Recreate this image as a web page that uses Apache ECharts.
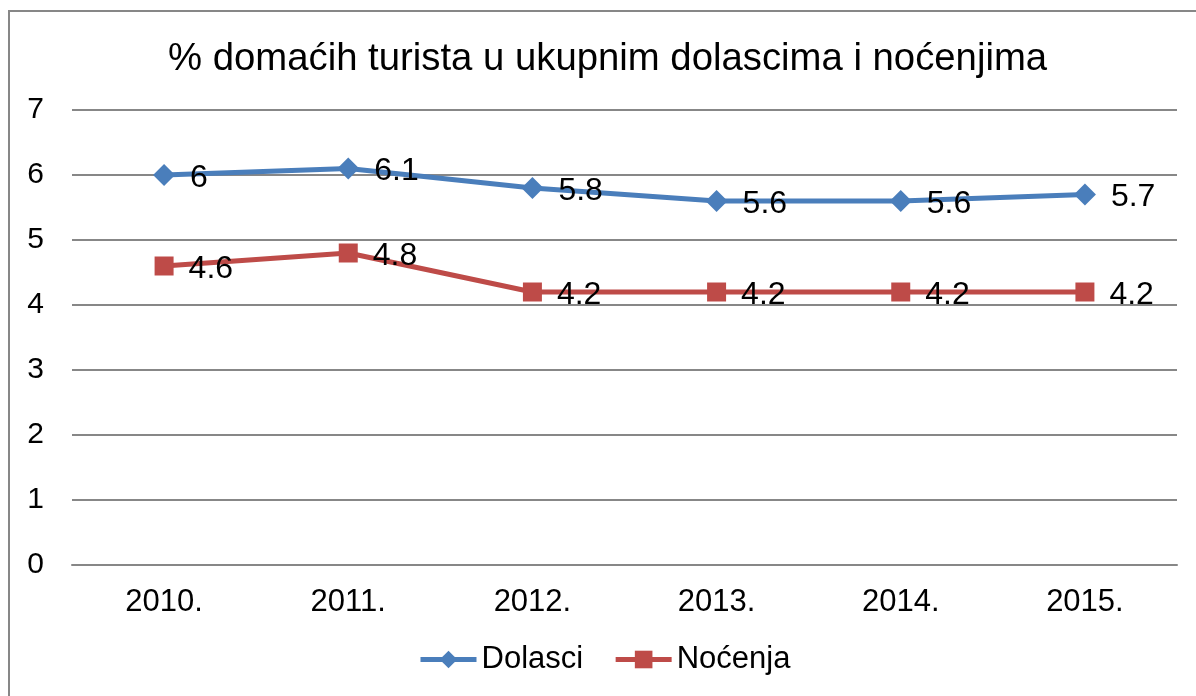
<!DOCTYPE html>
<html>
<head>
<meta charset="utf-8">
<script src="https://cdn.jsdelivr.net/npm/echarts@6/dist/echarts.min.js"></script>
<style>
  html, body { margin: 0; padding: 0; background: #fff; }
  #chart { width: 1196px; height: 696px; }
</style>
</head>
<body>
<div id="chart"></div>
<script>
// podaci
var years = ['2010.', '2011.', '2012.', '2013.', '2014.', '2015.'];
var dolasci = [6, 6.1, 5.8, 5.6, 5.6, 5.7];
var nocenja = [4.6, 4.8, 4.2, 4.2, 4.2, 4.2];
var yTicks = [0, 1, 2, 3, 4, 5, 6, 7];

var font = 'Liberation Sans, Arial, sans-serif';
var chart = echarts.init(document.getElementById('chart'));

var labelStyle = {
  show: true,
  position: 'right',
  distance: 15,
  offset: [0, 3],
  fontSize: 32,
  fontFamily: font,
  color: '#000'
};

chart.setOption({
  animation: false,
  graphic: [{
    type: 'rect',
    shape: { x: 9, y: 11, width: 1200, height: 700 },
    style: { fill: 'none', stroke: '#878787', lineWidth: 2 },
    silent: true
  }],
  title: {
    text: '% domaćih turista u ukupnim dolascima i noćenjima',
    left: 163,
    top: 35,
    textStyle: { fontSize: 38.3, fontWeight: 'normal', fontFamily: font, color: '#000' }
  },
  legend: {
    bottom: 16,
    left: 413,
    itemWidth: 56,
    itemHeight: 22,
    itemGap: 30,
    lineStyle: { width: 5 },
    textStyle: { fontSize: 31, fontFamily: font, color: '#000' },
    data: ['Dolasci', 'Noćenja']
  },
  grid: { left: 72, right: 19, top: 110, bottom: 131, containLabel: false },
  xAxis: {
    type: 'category',
    data: years,
    boundaryGap: true,
    axisLine: { lineStyle: { color: '#878787', width: 2 } },
    axisTick: { show: false },
    axisLabel: { fontSize: 31, fontFamily: font, color: '#000', margin: 22 }
  },
  yAxis: {
    type: 'value',
    min: yTicks[0],
    max: yTicks[yTicks.length - 1],
    interval: 1,
    axisLine: { show: false },
    axisTick: { show: false },
    splitLine: { lineStyle: { color: '#878787', width: 2 } },
    axisLabel: { fontSize: 30, fontFamily: font, color: '#000', margin: 28 }
  },
  series: [{
    name: 'Dolasci',
    type: 'line',
    data: dolasci,
    symbol: 'diamond',
    symbolSize: 22,
    itemStyle: { color: '#4A7EBB' },
    lineStyle: { color: '#4A7EBB', width: 5 },
    label: labelStyle
  }, {
    name: 'Noćenja',
    type: 'line',
    data: nocenja,
    symbol: 'rect',
    symbolSize: 19,
    itemStyle: { color: '#BE4B48' },
    lineStyle: { color: '#BE4B48', width: 5 },
    label: labelStyle
  }]
});
</script>
</body>
</html>
